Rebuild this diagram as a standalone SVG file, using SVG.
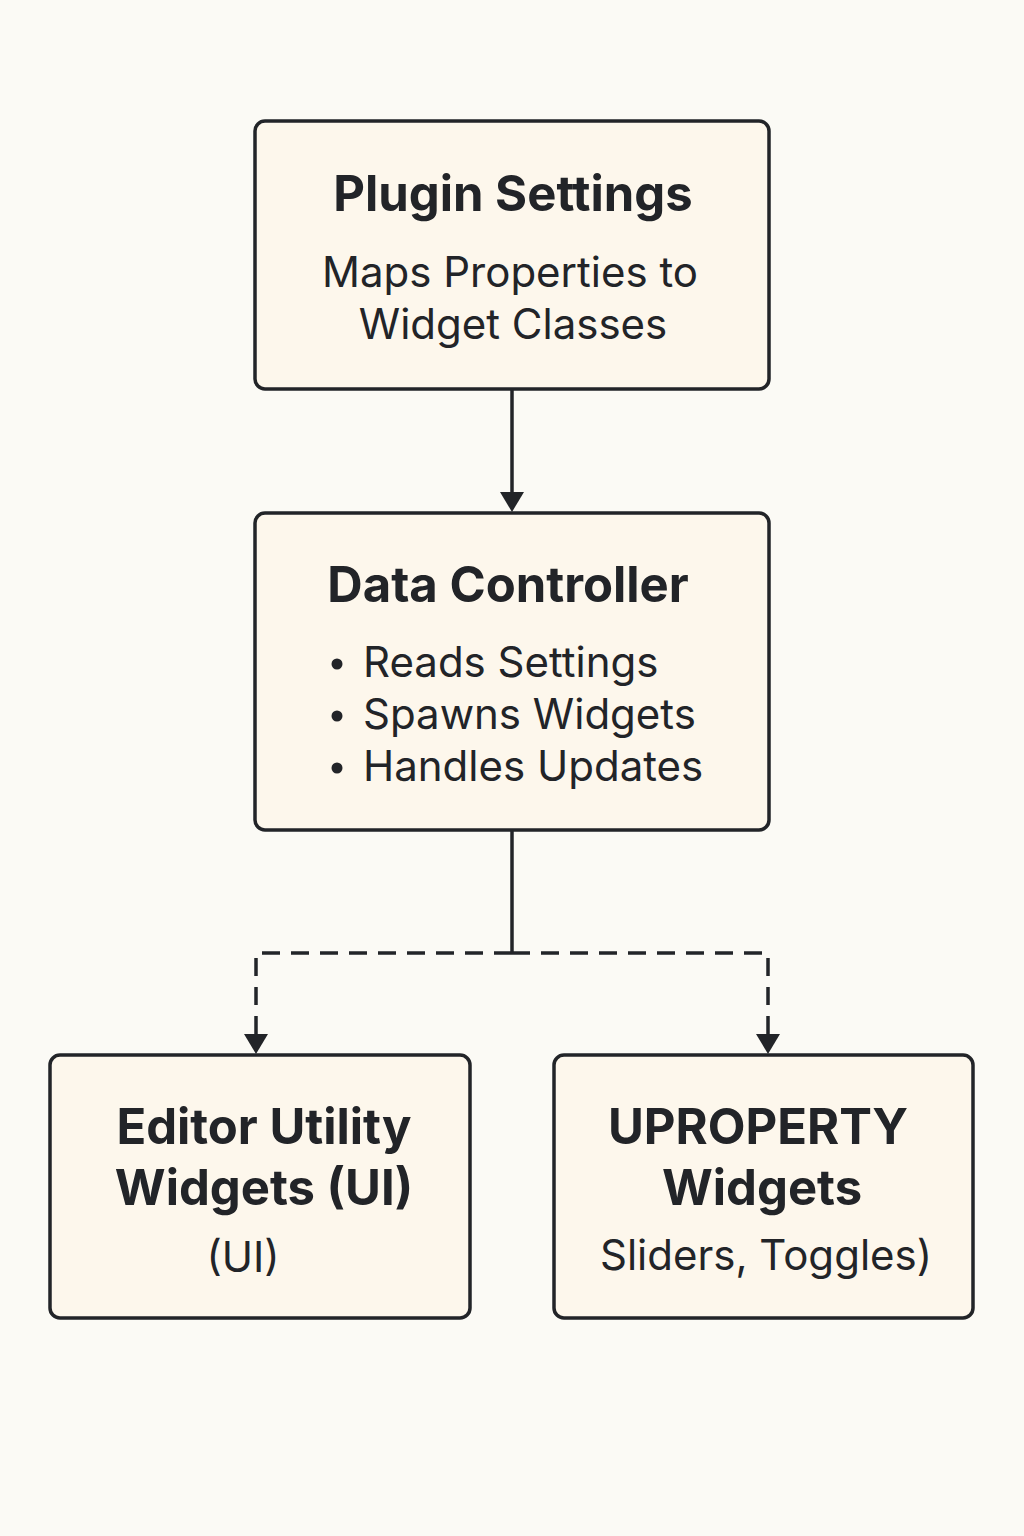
<svg xmlns="http://www.w3.org/2000/svg" width="1024" height="1536" viewBox="0 0 1024 1536">
<style>
.box{fill:#fdf7ec;stroke:#222428;stroke-width:3.5}
.t{font-family:Inter,"Noto Sans",sans-serif;fill:#222428;text-anchor:middle}
.h{font-weight:700;font-size:49px}
.b{font-weight:400;font-size:42px}
.c{stroke:#222428;stroke-width:3.5;fill:none}
.d{stroke-dasharray:18 11}
</style>
<rect width="1024" height="1536" fill="#fbfaf5"/>
<g id="connectors">
<line class="c" x1="512" y1="389" x2="512" y2="495"/>
<path d="M500,492 L524,492 L512,512 z" fill="#222428"/>
<line class="c" x1="512" y1="830" x2="512" y2="953"/>
<path class="c d" d="M512,953 H256 V1036"/>
<path class="c d" d="M512,953 H768 V1036"/>
<path d="M244,1034 L268,1034 L256,1054 z" fill="#222428"/>
<path d="M756,1034 L780,1034 L768,1054 z" fill="#222428"/>
</g>
<g id="plugin-settings">
<rect class="box" x="255" y="121" width="514" height="268" rx="10"/>
<text class="t h" x="513" y="211">Plugin Settings</text>
<text class="t b" x="510" y="287">Maps Properties to</text>
<text class="t b" x="513" y="339">Widget Classes</text>
</g>
<g id="data-controller">
<rect class="box" x="255" y="513" width="514" height="317" rx="10"/>
<text class="t h" x="508" y="602">Data Controller</text>
<g class="t b" style="text-anchor:start">
<circle cx="337" cy="664" r="5.5" fill="#222428"/>
<circle cx="337" cy="716" r="5.5" fill="#222428"/>
<circle cx="337" cy="768" r="5.5" fill="#222428"/>
<text x="363" y="677">Reads Settings</text>
<text x="363" y="729">Spawns Widgets</text>
<text x="363" y="781">Handles Updates</text>
</g>
</g>
<g id="editor-utility-widgets">
<rect class="box" x="50" y="1055" width="420" height="263" rx="10"/>
<text class="t h" x="264" y="1144">Editor Utility</text>
<text class="t h" x="264" y="1205">Widgets (UI)</text>
<text class="t b" x="243" y="1272">(UI)</text>
</g>
<g id="uproperty-widgets">
<rect class="box" x="554" y="1055" width="419" height="263" rx="10"/>
<text class="t h" x="758" y="1144">UPROPERTY</text>
<text class="t h" x="762" y="1205">Widgets</text>
<text class="t b" x="766" y="1270">Sliders, Toggles)</text>
</g>
</svg>
